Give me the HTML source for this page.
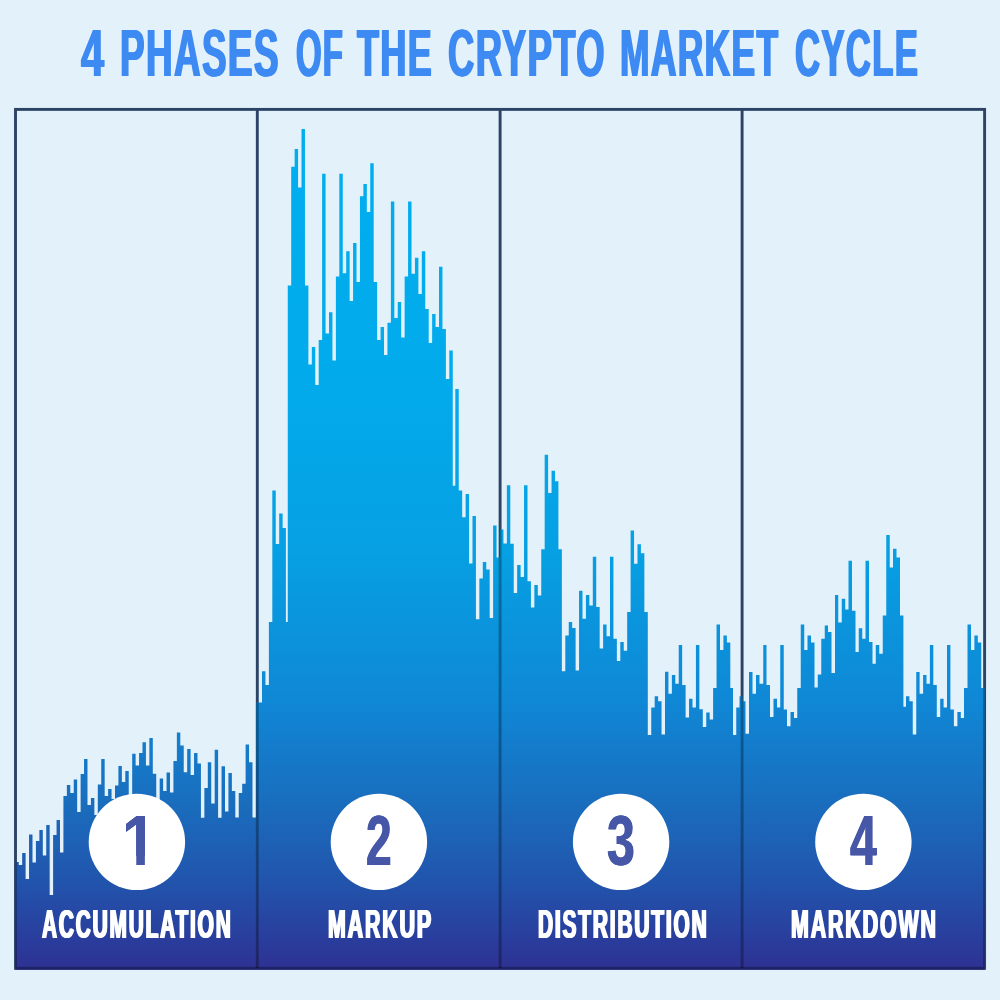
<!DOCTYPE html>
<html lang="en"><head><meta charset="utf-8"><title>4 Phases of the Crypto Market Cycle</title>
<style>
html,body{margin:0;padding:0;background:#e3f1fb;}
body{width:1000px;height:1000px;overflow:hidden;position:relative;font-family:"Liberation Sans",sans-serif;}
svg{position:absolute;left:0;top:0;display:block}
.tw{position:absolute;top:20.2px;font-family:"Liberation Sans",sans-serif;font-weight:700;font-size:66.2px;line-height:1;color:#3e8af3;letter-spacing:2.5px;white-space:nowrap;transform-origin:0 0;display:block}
.lb{position:absolute;top:904.6px;font-family:"Liberation Sans",sans-serif;font-weight:700;font-size:39.9px;line-height:1;color:#fff;letter-spacing:3.5px;white-space:nowrap;transform-origin:0 0;display:block}
.dg{position:absolute;top:807.0px;font-family:"Liberation Sans",sans-serif;font-weight:700;font-size:69.5px;line-height:1;color:#4757a7;white-space:nowrap;transform-origin:0 0;display:block}
</style></head><body>
<svg width="1000" height="1000" viewBox="0 0 1000 1000">
<defs>
<linearGradient id="g" gradientUnits="userSpaceOnUse" x1="0" y1="125" x2="0" y2="970">
<stop offset="0" stop-color="#00aeef"/>
<stop offset="0.325" stop-color="#02aaeb"/>
<stop offset="0.503" stop-color="#06a0e3"/>
<stop offset="0.680" stop-color="#0f88d6"/>
<stop offset="0.799" stop-color="#196ebe"/>
<stop offset="0.893" stop-color="#2155ad"/>
<stop offset="0.976" stop-color="#2b3999"/>
<stop offset="1" stop-color="#2e3192"/>
</linearGradient>
<clipPath id="cp"><path d="M15.30 969.7V862.0H18.74V865.0H22.18V853.0H25.61V879.0H29.05V834.5H32.49V862.5H35.92V841.0H39.36V830.0H42.80V855.5H46.24V825.0H49.67V895.0H53.11V835.0H56.55V820.0H59.99V852.5H63.42V796.0H66.86V785.0H70.30V793.0H73.74V779.5H77.17V812.0H80.61V774.0H84.05V759.0H87.49V805.0H90.92V798.0H94.36V815.0H97.80V784.5H101.24V759.0H104.67V796.0H108.11V789.0H111.55V799.0H114.99V785.6H118.42V766.0H121.86V782.0H125.30V771.0H128.74V800.0H132.18V753.8H135.61V765.6H139.05V753.1H142.49V742.2H145.93V765.6H149.36V738.1H152.80V773.8H156.24V800.0H159.68V778.5H163.11V791.0H166.55V772.5H169.99V792.5H173.43V761.0H176.86V732.5H180.30V745.6H183.74V772.2H187.18V749.1H190.61V775.0H194.05V752.9H197.49V763.5H200.93V817.8H204.36V788.1H207.80V762.2H211.24V803.5H214.68V749.8H218.11V817.8H221.55V766.2H224.99V811.5H228.43V772.9H231.86V791.0H235.30V817.5H238.74V793.1H242.18V783.8H245.61V744.4H249.05V762.2H252.49V817.5H255.93V702.5H258.56V702.5H262.00V671.3H265.44V685.0H268.88V622.0H272.31V490.5H275.75V544.0H279.19V513.5H282.62V528.0H285.90V622.0H287.76V285.5H291.20V166.7H294.64V149.0H298.07V187.5H301.51V129.0H304.95V285.5H308.39V364.5H311.82V347.0H315.26V385.0H318.70V340.0H322.14V173.7H325.57V333.6H329.01V312.3H332.45V360.5H335.89V276.4H339.32V173.7H342.76V273.3H346.20V251.2H349.64V301.0H353.07V243.0H356.51V282.0H359.95V196.3H363.39V184.0H366.82V212.0H370.26V163.3H373.70V282.0H377.14V340.0H380.57V327.0H384.01V355.0H387.45V322.7H390.89V201.5H394.32V318.0H397.76V302.0H401.20V337.5H404.64V276.4H408.07V201.5H411.51V273.8H414.95V257.7H418.39V294.0H421.82V251.2H425.26V309.0H428.70V343.0H432.14V314.0H435.57V327.0H439.01V266.8H442.45V329.0H445.89V379.0H449.32V350.5H452.76V485.7H455.30V389.0H458.74V490.5H462.18V517.3H465.61V494.0H469.05V563.6H472.49V516.0H475.93V619.3H479.36V578.4H482.80V562.0H486.24V569.5H489.68V618.0H493.11V525.5H496.55V557.6H499.99V529.4H503.43V543.5H506.86V485.2H510.30V543.8H513.74V593.0H517.17V565.0H520.61V577.0H524.05V485.2H527.49V581.2H530.92V607.5H534.36V585.0H537.80V595.5H541.24V549.3H544.67V454.8H548.11V493.0H551.55V470.8H554.99V481.2H558.42V549.3H561.86V671.2H565.30V635.5H568.74V622.0H572.17V628.0H575.61V670.5H579.05V590.8H582.49V618.8H585.92V595.0H589.36V605.5H592.80V556.8H596.24V607.0H599.67V648.5H603.11V624.5H606.55V636.2H609.99V556.8H613.42V638.8H616.86V661.0H620.30V642.0H623.74V650.8H627.17V612.0H630.61V530.5H634.05V563.8H637.49V544.2H640.92V553.2H644.36V612.0H647.80V735.0H651.24V707.5H654.67V696.2H658.11V701.2H661.55V734.5H664.99V671.8H668.42V693.8H671.86V675.0H675.30V683.8H678.74V645.0H682.17V685.0H685.61V717.5H689.05V698.8H692.49V707.5H695.92V645.0H699.36V709.2H702.80V727.0H706.24V712.5H709.67V719.5H713.11V688.0H716.55V624.5H719.99V650.0H723.42V635.5H726.86V642.5H730.30V688.0H733.00V735.0H736.25V707.5H739.50V696.2H742.50V701.2H745.50V733.8H749.00V672.0H752.50V693.8H756.00V675.0H759.50V683.8H763.25V645.0H766.50V685.0H770.00V717.0H773.50V698.8H777.00V707.5H780.25V645.0H783.75V709.5H787.00V726.2H790.50V712.0H794.00V718.0H797.25V688.0H800.75V624.5H804.25V650.0H807.50V635.5H811.00V642.5H814.50V687.5H817.75V674.5H821.25V638.8H824.75V625.5H828.00V632.0H831.50V673.0H835.00V595.0H838.25V622.5H841.75V598.8H845.25V609.5H848.50V560.8H852.00V610.8H855.50V652.0H858.75V628.2H862.25V638.8H865.50V560.8H869.00V642.0H872.50V663.8H875.75V645.0H879.25V653.8H882.75V615.5H886.25V535.0H889.75V567.5H893.00V548.8H896.50V557.5H900.00V615.5H903.40V706.8H906.00V696.2H909.40V701.2H912.75V734.5H916.25V672.0H919.60V693.8H923.10V675.0H926.50V683.8H929.90V645.0H933.30V685.0H936.80V717.0H940.20V698.8H943.60V707.5H947.00V645.0H950.40V709.5H953.90V726.2H957.40V712.0H960.80V718.0H964.00V688.0H967.50V624.5H971.00V650.0H974.40V635.5H977.80V642.5H981.25V688.0H984.80V969.7Z"/></clipPath>
</defs>
<rect width="1000" height="1000" fill="#e3f1fb"/>
<g fill="none" stroke="#2d4365" stroke-width="2.9">
<rect x="15.5" y="109.4" width="969.1" height="858.9"/>
<path d="M257.3 109V968M500.1 109V968M742.1 109V968"/>
</g>
<path fill="url(#g)" d="M15.30 969.7V862.0H18.74V865.0H22.18V853.0H25.61V879.0H29.05V834.5H32.49V862.5H35.92V841.0H39.36V830.0H42.80V855.5H46.24V825.0H49.67V895.0H53.11V835.0H56.55V820.0H59.99V852.5H63.42V796.0H66.86V785.0H70.30V793.0H73.74V779.5H77.17V812.0H80.61V774.0H84.05V759.0H87.49V805.0H90.92V798.0H94.36V815.0H97.80V784.5H101.24V759.0H104.67V796.0H108.11V789.0H111.55V799.0H114.99V785.6H118.42V766.0H121.86V782.0H125.30V771.0H128.74V800.0H132.18V753.8H135.61V765.6H139.05V753.1H142.49V742.2H145.93V765.6H149.36V738.1H152.80V773.8H156.24V800.0H159.68V778.5H163.11V791.0H166.55V772.5H169.99V792.5H173.43V761.0H176.86V732.5H180.30V745.6H183.74V772.2H187.18V749.1H190.61V775.0H194.05V752.9H197.49V763.5H200.93V817.8H204.36V788.1H207.80V762.2H211.24V803.5H214.68V749.8H218.11V817.8H221.55V766.2H224.99V811.5H228.43V772.9H231.86V791.0H235.30V817.5H238.74V793.1H242.18V783.8H245.61V744.4H249.05V762.2H252.49V817.5H255.93V702.5H258.56V702.5H262.00V671.3H265.44V685.0H268.88V622.0H272.31V490.5H275.75V544.0H279.19V513.5H282.62V528.0H285.90V622.0H287.76V285.5H291.20V166.7H294.64V149.0H298.07V187.5H301.51V129.0H304.95V285.5H308.39V364.5H311.82V347.0H315.26V385.0H318.70V340.0H322.14V173.7H325.57V333.6H329.01V312.3H332.45V360.5H335.89V276.4H339.32V173.7H342.76V273.3H346.20V251.2H349.64V301.0H353.07V243.0H356.51V282.0H359.95V196.3H363.39V184.0H366.82V212.0H370.26V163.3H373.70V282.0H377.14V340.0H380.57V327.0H384.01V355.0H387.45V322.7H390.89V201.5H394.32V318.0H397.76V302.0H401.20V337.5H404.64V276.4H408.07V201.5H411.51V273.8H414.95V257.7H418.39V294.0H421.82V251.2H425.26V309.0H428.70V343.0H432.14V314.0H435.57V327.0H439.01V266.8H442.45V329.0H445.89V379.0H449.32V350.5H452.76V485.7H455.30V389.0H458.74V490.5H462.18V517.3H465.61V494.0H469.05V563.6H472.49V516.0H475.93V619.3H479.36V578.4H482.80V562.0H486.24V569.5H489.68V618.0H493.11V525.5H496.55V557.6H499.99V529.4H503.43V543.5H506.86V485.2H510.30V543.8H513.74V593.0H517.17V565.0H520.61V577.0H524.05V485.2H527.49V581.2H530.92V607.5H534.36V585.0H537.80V595.5H541.24V549.3H544.67V454.8H548.11V493.0H551.55V470.8H554.99V481.2H558.42V549.3H561.86V671.2H565.30V635.5H568.74V622.0H572.17V628.0H575.61V670.5H579.05V590.8H582.49V618.8H585.92V595.0H589.36V605.5H592.80V556.8H596.24V607.0H599.67V648.5H603.11V624.5H606.55V636.2H609.99V556.8H613.42V638.8H616.86V661.0H620.30V642.0H623.74V650.8H627.17V612.0H630.61V530.5H634.05V563.8H637.49V544.2H640.92V553.2H644.36V612.0H647.80V735.0H651.24V707.5H654.67V696.2H658.11V701.2H661.55V734.5H664.99V671.8H668.42V693.8H671.86V675.0H675.30V683.8H678.74V645.0H682.17V685.0H685.61V717.5H689.05V698.8H692.49V707.5H695.92V645.0H699.36V709.2H702.80V727.0H706.24V712.5H709.67V719.5H713.11V688.0H716.55V624.5H719.99V650.0H723.42V635.5H726.86V642.5H730.30V688.0H733.00V735.0H736.25V707.5H739.50V696.2H742.50V701.2H745.50V733.8H749.00V672.0H752.50V693.8H756.00V675.0H759.50V683.8H763.25V645.0H766.50V685.0H770.00V717.0H773.50V698.8H777.00V707.5H780.25V645.0H783.75V709.5H787.00V726.2H790.50V712.0H794.00V718.0H797.25V688.0H800.75V624.5H804.25V650.0H807.50V635.5H811.00V642.5H814.50V687.5H817.75V674.5H821.25V638.8H824.75V625.5H828.00V632.0H831.50V673.0H835.00V595.0H838.25V622.5H841.75V598.8H845.25V609.5H848.50V560.8H852.00V610.8H855.50V652.0H858.75V628.2H862.25V638.8H865.50V560.8H869.00V642.0H872.50V663.8H875.75V645.0H879.25V653.8H882.75V615.5H886.25V535.0H889.75V567.5H893.00V548.8H896.50V557.5H900.00V615.5H903.40V706.8H906.00V696.2H909.40V701.2H912.75V734.5H916.25V672.0H919.60V693.8H923.10V675.0H926.50V683.8H929.90V645.0H933.30V685.0H936.80V717.0H940.20V698.8H943.60V707.5H947.00V645.0H950.40V709.5H953.90V726.2H957.40V712.0H960.80V718.0H964.00V688.0H967.50V624.5H971.00V650.0H974.40V635.5H977.80V642.5H981.25V688.0H984.80V969.7Z"/>
<g fill="none" stroke="#000" stroke-opacity="0.3" stroke-width="2.9" clip-path="url(#cp)">
<rect x="15.5" y="109.4" width="969.1" height="858.9"/>
<path d="M257.3 109V968M500.1 109V968M742.1 109V968"/>
</g>
<g fill="#fff">
<circle cx="136.9" cy="841.9" r="48.2"/>
<circle cx="378.9" cy="841.9" r="48.2"/>
<circle cx="621.1" cy="841.9" r="48.2"/>
<circle cx="863.4" cy="841.9" r="48.2"/>
</g>
</svg>
<span class="tw" style="left:81.02px;transform:scaleX(0.6258);text-shadow:1.28px 0 0 #3e8af3,-1.28px 0 0 #3e8af3">4</span>
<span class="tw" style="left:119.83px;transform:scaleX(0.5566);text-shadow:1.44px 0 0 #3e8af3,-1.44px 0 0 #3e8af3">PHASES</span>
<span class="tw" style="left:295.77px;transform:scaleX(0.4968);text-shadow:1.61px 0 0 #3e8af3,-1.61px 0 0 #3e8af3">OF</span>
<span class="tw" style="left:357.08px;transform:scaleX(0.5440);text-shadow:1.47px 0 0 #3e8af3,-1.47px 0 0 #3e8af3">THE</span>
<span class="tw" style="left:447.54px;transform:scaleX(0.5502);text-shadow:1.45px 0 0 #3e8af3,-1.45px 0 0 #3e8af3">CRYPTO</span>
<span class="tw" style="left:619.79px;transform:scaleX(0.5349);text-shadow:1.50px 0 0 #3e8af3,-1.50px 0 0 #3e8af3">MARKET</span>
<span class="tw" style="left:794.56px;transform:scaleX(0.5242);text-shadow:1.53px 0 0 #3e8af3,-1.53px 0 0 #3e8af3">CYCLE</span>
<span class="lb" style="left:42.02px;transform:scaleX(0.5225);text-shadow:1.53px 0 0 #fff,-1.53px 0 0 #fff">ACCUMULATION</span>
<span class="lb" style="left:327.72px;transform:scaleX(0.5356);text-shadow:1.49px 0 0 #fff,-1.49px 0 0 #fff">MARKUP</span>
<span class="lb" style="left:537.81px;transform:scaleX(0.5236);text-shadow:1.53px 0 0 #fff,-1.53px 0 0 #fff">DISTRIBUTION</span>
<span class="lb" style="left:790.85px;transform:scaleX(0.5362);text-shadow:1.49px 0 0 #fff,-1.49px 0 0 #fff">MARKDOWN</span>
<span class="dg" style="left:122.18px;transform:scaleX(0.8846);text-shadow:0.00px 0 0 #4757a7,-0.00px 0 0 #4757a7;clip-path:polygon(0 0,100% 0,100% 48.75px,25.86px 48.75px,25.86px 100%,16.12px 100%,16.12px 48.75px,0 48.75px)">1</span>
<span class="dg" style="left:366.00px;transform:scaleX(0.6635);text-shadow:0.75px 0 0 #4757a7,-0.75px 0 0 #4757a7">2</span>
<span class="dg" style="left:607.32px;transform:scaleX(0.7204);text-shadow:0.69px 0 0 #4757a7,-0.69px 0 0 #4757a7">3</span>
<span class="dg" style="left:850.00px;transform:scaleX(0.6918);text-shadow:0.72px 0 0 #4757a7,-0.72px 0 0 #4757a7">4</span>
</body></html>
